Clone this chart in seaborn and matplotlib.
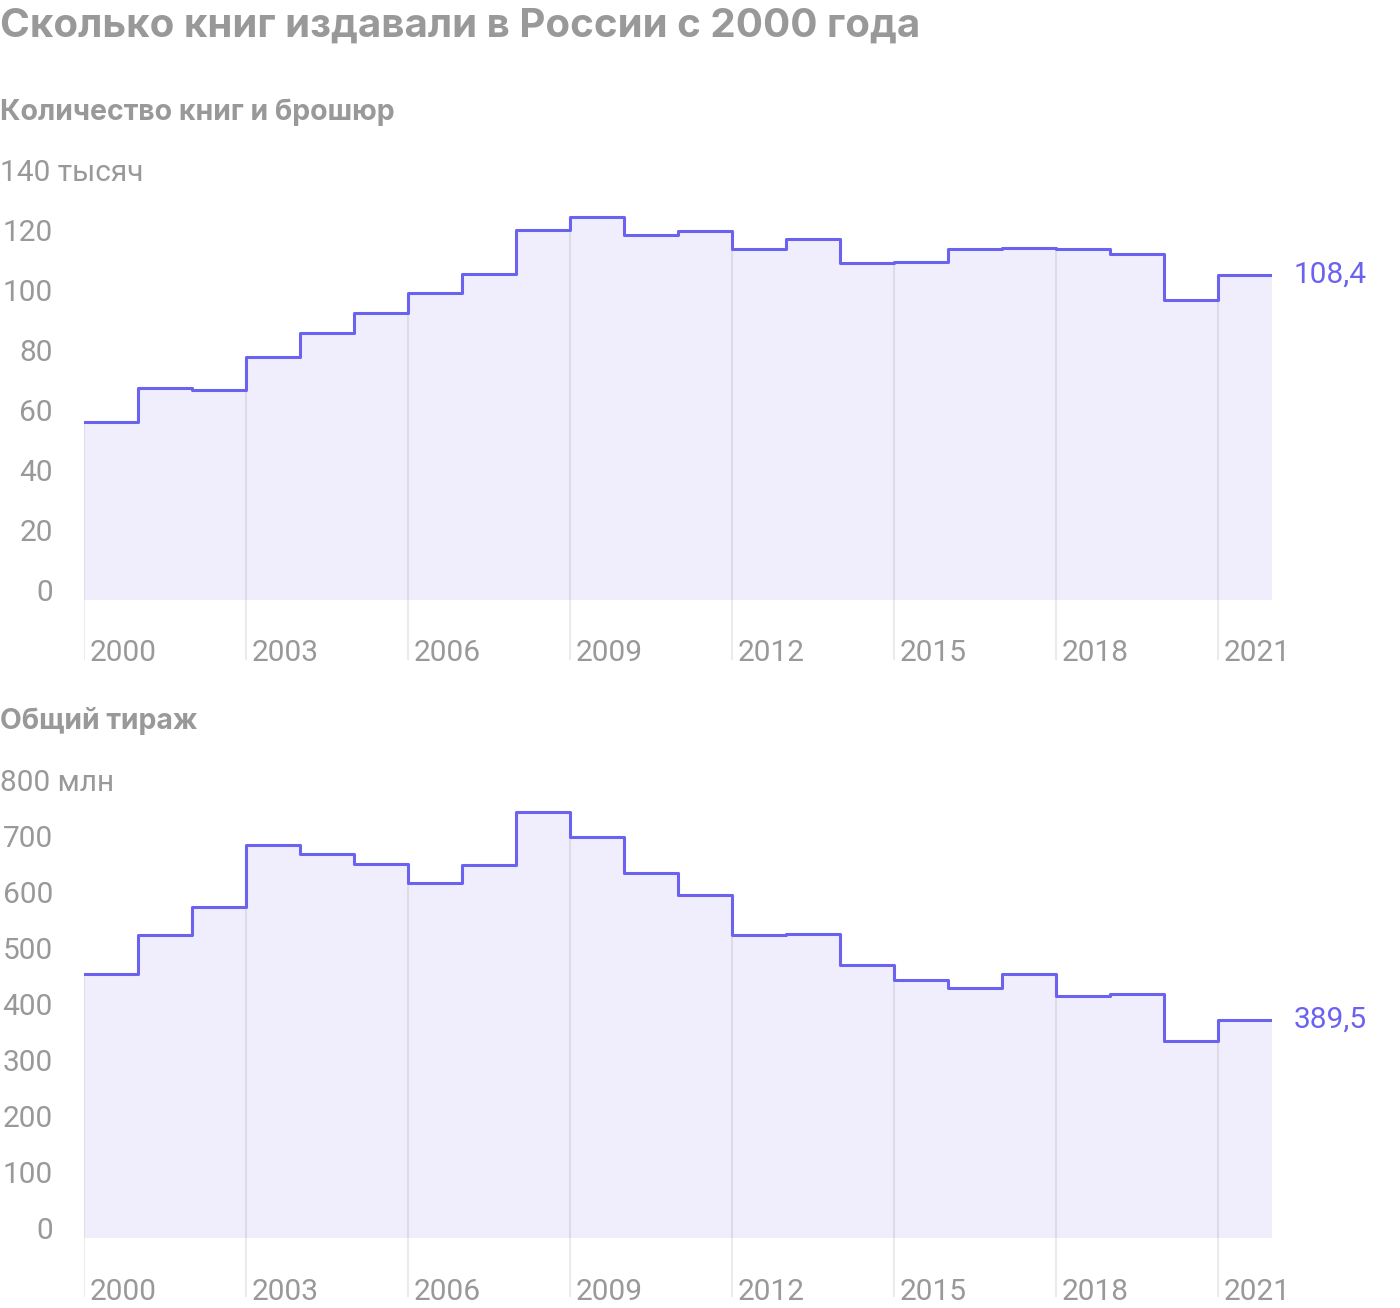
import matplotlib.pyplot as plt
import seaborn as sns
import numpy as np
import pandas as pd

years = list(range(2000, 2022))
titles = [59.3, 70.8, 70.1, 81.0, 89.1, 95.8, 102.3, 108.8, 123.3, 127.6, 121.7,
          122.9, 116.9, 120.5, 112.4, 112.6, 117.1, 117.3, 117.0, 115.2, 99.9, 108.4]
copies = [471.3, 541.8, 591.4, 702.5, 685.6, 668.5, 634.1, 665.7, 760.4, 716.9, 652.5,
          612.5, 540.5, 543.0, 487.0, 461.4, 446.9, 471.5, 432.7, 435.8, 351.2, 389.5]
grid_years = [2000, 2003, 2006, 2009, 2012, 2015, 2018, 2021]
ticks_top = [0, 20, 40, 60, 80, 100, 120]
ticks_bottom = [0, 100, 200, 300, 400, 500, 600, 700]

LINE = '#6b62ef'
FILL = '#f0eefc'
GREY = '#999999'
HEAD_FONT = ['Inter', 'Liberation Sans', 'DejaVu Sans']

sns.set_theme(style='white')
plt.rcParams['font.family'] = ['Roboto', 'DejaVu Sans']

W, H = 1400, 1308
fig = plt.figure(figsize=(W / 100, H / 100), dpi=100)


def make_axes(top_px, bottom_px):
    return fig.add_axes([84 / W, 1 - bottom_px / H, (1272 - 84) / W, (bottom_px - top_px) / H])


def draw_panel(ax, values, ylow, yhigh, ticks, top_label, ytxt_off, year_base, value_label):
    df = pd.DataFrame({'year': years + [years[-1] + 1], 'value': values + [values[-1]]})
    ax.fill_between(df['year'], 0, df['value'], step='post', color=FILL, lw=0, zorder=1)
    for gy in grid_years:
        v = values[years.index(gy)]
        ax.plot([gy, gy], [ylow, v], color='black', alpha=0.08, lw=1.5, zorder=2,
                solid_capstyle='butt')
    sns.lineplot(data=df, x='year', y='value', drawstyle='steps-post', color=LINE,
                 lw=2.2, ax=ax, zorder=3)
    ax.set_xlim(2000, 2022)
    ax.set_ylim(ylow, yhigh)
    ax.axis('off')
    tr = ax.get_yaxis_transform()
    for t in ticks:
        ax.text((53 - 84) / 1188, t + ytxt_off, str(t), transform=tr,
                ha='right', va='baseline', fontsize=21.5, color=GREY)
    ax.text(-84 / 1188, yhigh + ytxt_off, top_label, transform=tr,
            ha='left', va='baseline', fontsize=21.5, color=GREY)
    for gy in grid_years:
        ax.text(gy + 0.11, year_base, str(gy), ha='left', va='baseline',
                fontsize=21.5, color=GREY)
    ax.text(2022 + 22 / 54, values[-1], value_label, ha='left', va='center',
            fontsize=21.5, color=LINE)


ax1 = make_axes(180, 660)
draw_panel(ax1, titles, -20, 140, ticks_top, '140 тысяч', -0.2, -20.4, '108,4')

ax2 = make_axes(790, 1297)
draw_panel(ax2, copies, -105, 800, ticks_bottom, '800 млн', -1, -110, '389,5')

fig.text(0, 1 - 37 / H, 'Сколько книг издавали в России с 2000 года', ha='left',
         va='baseline', fontsize=29, fontweight='bold', color=GREY, family=HEAD_FONT)
fig.text(0, 1 - 120 / H, 'Количество книг и брошюр', ha='left', va='baseline',
         fontsize=20.5, fontweight='bold', color=GREY, family=HEAD_FONT)
fig.text(0, 1 - 729 / H, 'Общий тираж', ha='left', va='baseline',
         fontsize=20.5, fontweight='bold', color=GREY, family=HEAD_FONT)

fig.savefig('out.png', dpi=100)
